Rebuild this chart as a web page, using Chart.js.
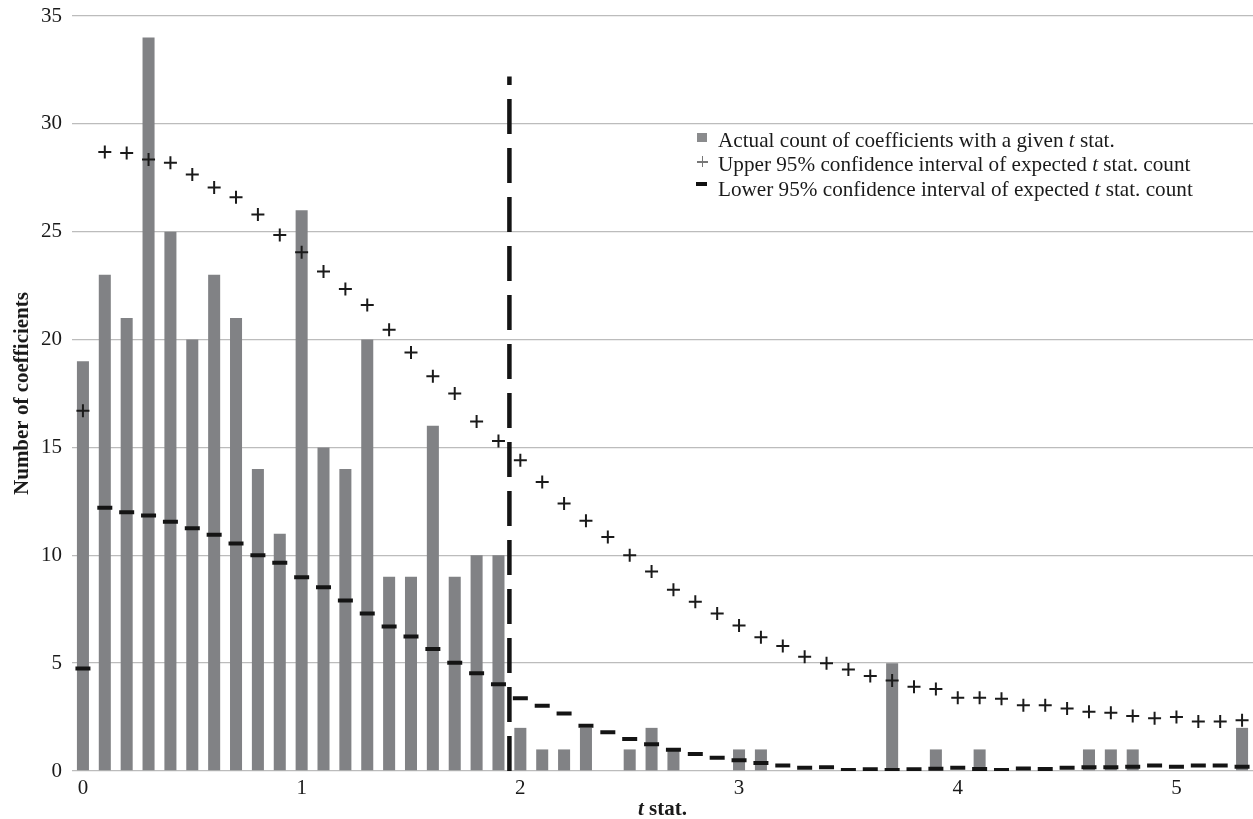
<!DOCTYPE html>
<html>
<head>
<meta charset="utf-8">
<script src="https://cdn.jsdelivr.net/npm/chart.js@4.4.1/dist/chart.umd.min.js"></script>
<style>
  html, body { margin:0; padding:0; background:#fff; }
  #wrap { position:relative; width:1253px; height:819px; font-family:'Liberation Serif','Times New Roman',serif; color:#1a1a1a; }
  canvas { position:absolute; left:0; top:0; }
  .lg { position:absolute; left:718px; font-size:21.2px; line-height:24px; white-space:nowrap; }
  .mk { position:absolute; }
  #xtitle { position:absolute; left:0; width:1253px; padding-left:72px; box-sizing:border-box; text-align:center; top:796px; font-size:21px; line-height:24px; font-weight:bold; }
</style>
</head>
<body>
<div id="wrap">
  <canvas id="c" width="1253" height="819"></canvas>
  <div class="mk" style="left:697px;top:133px;width:10px;height:9px;background:#8a8b8d"></div>
  <div class="mk" style="left:697px;top:161px;width:11px;height:1.5px;background:#777"></div>
  <div class="mk" style="left:701.7px;top:156px;width:1.5px;height:11px;background:#777"></div>
  <div class="mk" style="left:696px;top:182px;width:11px;height:4px;background:#111"></div>
  <div class="lg" style="top:128px">Actual count of coefficients with a given <i>t</i> stat.</div>
  <div class="lg" style="top:152px">Upper 95% confidence interval of expected <i>t</i> stat. count</div>
  <div class="lg" style="top:177px">Lower 95% confidence interval of expected <i>t</i> stat. count</div>
  <div id="xtitle"><i>t</i> stat.</div>
</div>
<script>
const tStats = ['0.0','0.1','0.2','0.3','0.4','0.5','0.6','0.7','0.8','0.9',
                '1.0','1.1','1.2','1.3','1.4','1.5','1.6','1.7','1.8','1.9',
                '2.0','2.1','2.2','2.3','2.4','2.5','2.6','2.7','2.8','2.9',
                '3.0','3.1','3.2','3.3','3.4','3.5','3.6','3.7','3.8','3.9',
                '4.0','4.1','4.2','4.3','4.4','4.5','4.6','4.7','4.8','4.9',
                '5.0','5.1','5.2','5.3'];
const actualCounts = [19,23,21,34,25,20,23,21,14,11,
                      26,15,14,20,9,9,16,9,10,10,
                      2,1,1,2,0,1,2,1,0,0,
                      1,1,0,0,0,0,0,5,0,1,
                      0,1,0,0,0,0,1,1,1,0,
                      0,0,0,2];
const upperCI = [16.7,28.7,28.65,28.35,28.2,27.65,27.05,26.6,25.8,24.85,
                 24.05,23.15,22.35,21.6,20.45,19.4,18.3,17.5,16.2,15.3,
                 14.4,13.4,12.4,11.6,10.85,10.0,9.25,8.4,7.85,7.3,
                 6.75,6.2,5.8,5.3,5.0,4.7,4.4,4.2,3.9,3.8,
                 3.4,3.4,3.35,3.05,3.05,2.9,2.75,2.7,2.55,2.45,
                 2.5,2.3,2.3,2.35];
const lowerCI = [4.75,12.2,12.0,11.85,11.55,11.25,10.95,10.55,10.0,9.65,
                 8.98,8.52,7.9,7.3,6.7,6.23,5.65,5.02,4.53,4.02,
                 3.37,3.03,2.66,2.1,1.8,1.48,1.24,0.99,0.79,0.62,
                 0.5,0.37,0.25,0.15,0.17,0.05,0.08,0.05,0.08,0.11,
                 0.15,0.09,0.05,0.12,0.09,0.15,0.17,0.17,0.2,0.25,
                 0.2,0.25,0.25,0.2];
const xTickLabels = ['0','1','2','3','4','5'];
const yTicks = [0,5,10,15,20,25,30,35];
const critX = 1.95;
const critTop = 32.2;

const serif = "'Liberation Serif','Times New Roman',serif";

new Chart(document.getElementById('c'), {
  type: 'bar',
  data: {
    labels: tStats,
    datasets: [
      { type:'bar', data: actualCounts, backgroundColor:'#818285', barPercentage:0.55, categoryPercentage:1, grouped:false, order:3 },
      { type:'line', data: upperCI, showLine:false, pointStyle:'cross', pointRadius:6.5, pointBorderWidth:2,
        pointBorderColor:'#1a1a1a', order:1 },
      { type:'line', data: lowerCI, showLine:false, pointStyle:'line', pointRadius:7.5, pointBorderWidth:4,
        pointBorderColor:'#141414', order:1 },
      { type:'line', xAxisID:'xLin', data:[{x:critX,y:0},{x:critX,y:critTop}], borderColor:'#141414',
        borderWidth:4.5, borderDash:[35,14], borderCapStyle:'butt', pointRadius:0, order:2 }
    ]
  },
  options: {
    responsive:false, animation:false, devicePixelRatio:1,
    layout:{ autoPadding:false, padding:{ top:16, right:0, left:0, bottom:0 } },
    plugins:{ legend:{display:false}, tooltip:{enabled:false} },
    events:[],
    scales:{
      x:{
        grid:{display:false, drawTicks:false}, border:{display:false},
        ticks:{ autoSkip:false, maxRotation:0, padding:5, color:'#1a1a1a', font:{family:serif, size:21},
          callback:(v,i)=>{ const s = String(Number(tStats[i])); return xTickLabels.includes(s) ? s : ''; } },
        afterFit:s=>{ s.height = 48; s.paddingLeft = 0; s.paddingRight = 0; }
      },
      xLin:{ type:'linear', display:false, offset:false, min:-0.05, max:5.35 },
      y:{
        min:0, max:35,
        afterBuildTicks:s=>{ s.ticks = yTicks.map(v=>({value:v})); },
        grid:{ color:'#bcbcbc', lineWidth:1.3, drawTicks:false }, border:{display:false},
        ticks:{ padding:10, color:'#1a1a1a', font:{family:serif, size:21} },
        title:{ display:true, text:'Number of coefficients', color:'#1a1a1a', font:{family:serif, size:21, weight:'bold'}, padding:{top:10,bottom:0} },
        afterFit:s=>{ s.width = 72; s.paddingTop = 0; s.paddingBottom = 0; }
      }
    }
  }
});
</script>
</body>
</html>
